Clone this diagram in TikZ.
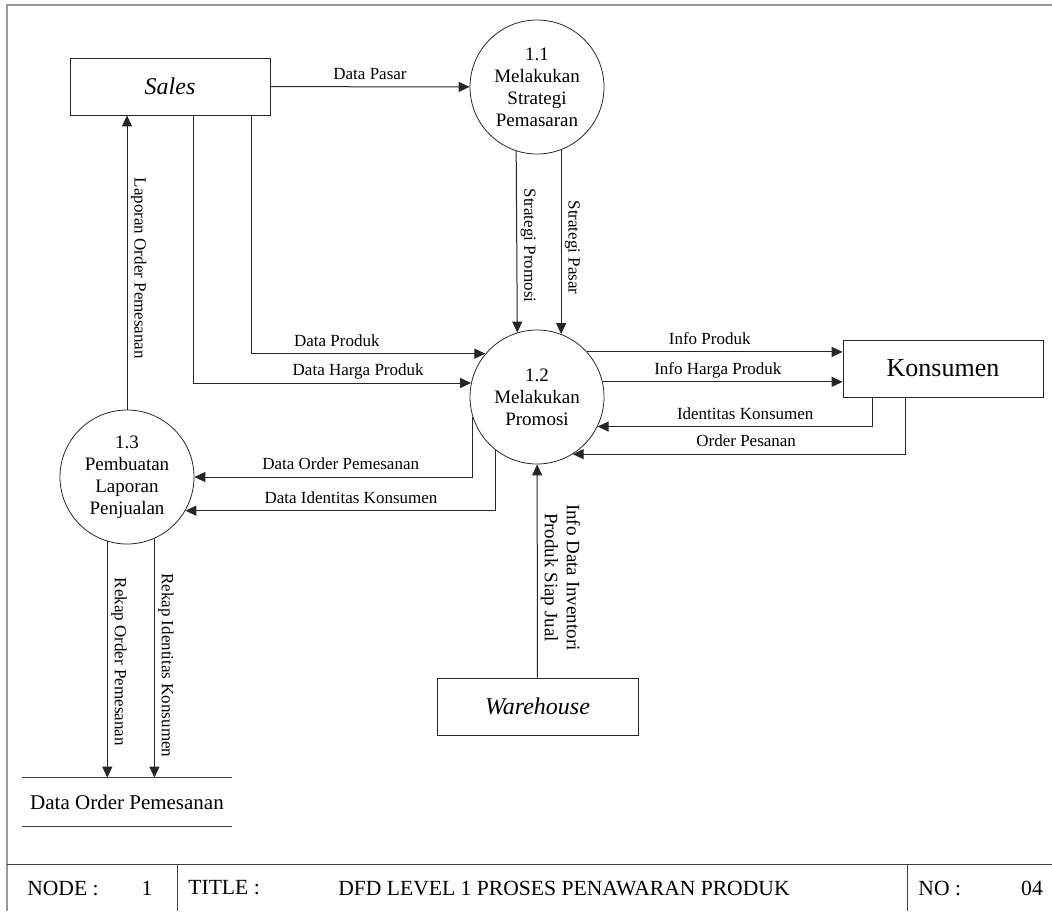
\documentclass[tikz,border=0pt]{standalone}
\usepackage{fontspec}
\setmainfont{Liberation Serif}
\usetikzlibrary{arrows.meta, positioning}

\begin{document}
\begin{tikzpicture}[
    x=0.5pt, y=-0.5pt,
    proc/.style={draw=black!85, circle, minimum size=67pt, inner sep=0pt,
      align=center, font=\fontsize{9.5}{11}\selectfont},
    ent/.style={draw=black!85, minimum width=100pt, minimum height=28.5pt,
      inner sep=0pt, font=\fontsize{12}{14}\selectfont},
    store/.style={minimum width=105pt, minimum height=24pt, inner sep=0pt,
      font=\fontsize{10.5}{12}\selectfont},
    lbl/.style={font=\fontsize{8.5}{10}\selectfont, inner sep=1.5pt,
      text height=6pt, text depth=2pt},
    vlbl/.style={lbl, rotate=-90, anchor=south, align=center},
    flow/.style={-{Triangle[length=5.5pt, width=5pt]}, line width=0.5pt, draw=black!85},
    rule/.style={line width=0.5pt, draw=black!75},
    foot/.style={font=\fontsize{10.8}{12}\selectfont, inner sep=0pt}
  ]
  \useasboundingbox (0,0) rectangle (1052,911);
  % frame
  \draw[line width=0.7pt, gray!80] (7,911) -- (7,5) -- (1052,5);

  % entities and processes
  \node[ent, font=\fontsize{12}{14}\selectfont\itshape] (sales) at (170,86.5) {Sales};
  \node[ent, font=\fontsize{13}{15}\selectfont] (kons) at (943,368.5) {Konsumen};
  \node[ent, minimum width=100.5pt, font=\fontsize{12}{14}\selectfont\itshape] (wh) at (537.5,706.5) {Warehouse};
  \node[proc] (p11) at (537,87) {1.1\\Melakukan\\Strategi\\Pemasaran};
  \node[proc] (p12) at (537,397) {1.2\\Melakukan\\Promosi};
  \node[proc] (p13) at (127,477) {1.3\\Pembuatan\\Laporan\\Penjualan};
  \node[store] (store) at (127,802) {Data Order Pemesanan};
  \draw[rule] (store.north west) -- (store.north east)
              (store.south west) -- (store.south east);

  % flows
  \draw[flow] (sales) -- node[lbl, above] {Data Pasar} (p11);
  \draw[flow] (p11.252.6) -- node[vlbl, pos=0.52] {Strategi Promosi} (p12.107.4);
  \draw[flow] (p11.-69) -- node[vlbl, pos=0.53] {Strategi Pasar} (p12.69);
  \draw[flow] ([xshift=40.5pt]sales.south) |- node[lbl, above, pos=0.683] {Data Produk} (p12.140);
  \draw[flow] ([xshift=11.5pt]sales.south) |- node[lbl, above, pos=0.797] {Data Harga Produk} (p12.168.8);
  \draw[flow] (p13.north) -- node[vlbl, pos=0.48] {Laporan Order Pemesanan} (p13.north |- sales.south);
  \draw[flow] (p12.42.2) -- node[lbl, above, pos=0.48] {Info Produk} (p12.42.2 -| kons.west);
  \draw[flow] (p12.13.8) -- node[lbl, above, pos=0.48] {Info Harga Produk} (p12.13.8 -| kons.west);
  \draw[flow] ([xshift=-35.5pt]kons.south) |- node[lbl, above, pos=0.731] {Identitas Konsumen} (p12.-26.6);
  \draw[flow] ([xshift=-19pt]kons.south) |- node[lbl, above, pos=0.739] {Order Pesanan} (p12.-58.3);
  \draw[flow] (p12.197.2) |- node[lbl, above, pos=0.737] {Data Order Pemesanan} (p13.east);
  \draw[flow] (p12.232.3) |- node[lbl, above, pos=0.733] {Data Identitas Konsumen} (p13.-30.5);
  \draw[flow] (wh) -- node[vlbl, pos=0.47, font=\fontsize{9.5}{11}\selectfont] {Info Data Inventori\\Produk Siap Jual} (p12);
  \draw[flow] (p13.253.5) -- node[vlbl, pos=0.51] {Rekap Order Pemesanan} (p13.253.5 |- store.north);
  \draw[flow] (p13.-66.3) -- node[vlbl, pos=0.53] {Rekap Identitas Konsumen} (p13.-66.3 |- store.north);

  % title block
  \draw[rule] (7,864) -- (1052,864) (177,864) -- (177,911) (907,864) -- (907,911);
  \node[foot] (nodelbl) at (63,888) {NODE :};
  \node[foot] (nodeno) at (147,888) {1};
  \node[foot, anchor=west] (titlelbl) at (188,888) {TITLE :};
  \node[foot] (title) at (564,888) {DFD LEVEL 1 PROSES PENAWARAN PRODUK};
  \node[foot, anchor=west] (nolbl) at (918,888) {NO :};
  \node[foot] (nono) at (1032,888) {04};
\end{tikzpicture}
\end{document}
